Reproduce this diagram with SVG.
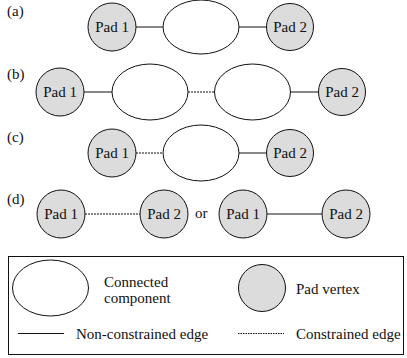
<svg xmlns="http://www.w3.org/2000/svg" width="407" height="358" viewBox="0 0 407 358">
<rect width="407" height="358" fill="#fff"/>
<g id="connectors" stroke="#111" stroke-width="1" fill="none">
<line x1="136" y1="27" x2="163" y2="27"/>
<line x1="239" y1="27" x2="267" y2="27"/>
<line x1="84" y1="92" x2="112" y2="92"/>
<line x1="188" y1="92" x2="215" y2="92" stroke-dasharray="2 1"/>
<line x1="290" y1="92" x2="318" y2="92"/>
<line x1="136" y1="153" x2="163" y2="153" stroke-dasharray="2 1"/>
<line x1="239" y1="153" x2="267" y2="153"/>
<line x1="85" y1="214" x2="140" y2="214" stroke-dasharray="2 1"/>
<line x1="267" y1="214" x2="323" y2="214"/>
</g>
<g id="labels" fill="#111">
<text x="7" y="16" font-family="Liberation Serif" font-size="15">(a)</text>
<text x="7" y="79" font-family="Liberation Serif" font-size="15">(b)</text>
<text x="7" y="142" font-family="Liberation Serif" font-size="15">(c)</text>
<text x="7" y="204" font-family="Liberation Serif" font-size="15">(d)</text>
<text x="195" y="218" font-family="Liberation Serif" font-size="15">or</text>
</g>
<g id="components" fill="#fff" stroke="#111" stroke-width="1">
<ellipse id="a-cc" cx="201" cy="27" rx="38" ry="27"/>
<ellipse id="b-cc1" cx="150" cy="92" rx="38" ry="28"/>
<ellipse id="b-cc2" cx="252.5" cy="92" rx="38" ry="28"/>
<ellipse id="c-cc" cx="201" cy="153" rx="38" ry="28"/>
</g>
<g id="pads" fill="#111">
<g id="a-pad1"><circle fill="#dcdcdc" stroke="#111" cx="112" cy="27" r="24"/><text x="112" y="32" text-anchor="middle" font-family="Liberation Serif" font-size="15">Pad 1</text></g>
<g id="a-pad2"><circle fill="#dcdcdc" stroke="#111" cx="290" cy="27" r="23.5"/><text x="290" y="32" text-anchor="middle" font-family="Liberation Serif" font-size="15">Pad 2</text></g>
<g id="b-pad1"><circle fill="#dcdcdc" stroke="#111" cx="60" cy="92" r="24"/><text x="60" y="97" text-anchor="middle" font-family="Liberation Serif" font-size="15">Pad 1</text></g>
<g id="b-pad2"><circle fill="#dcdcdc" stroke="#111" cx="342" cy="92" r="23.5"/><text x="342" y="97" text-anchor="middle" font-family="Liberation Serif" font-size="15">Pad 2</text></g>
<g id="c-pad1"><circle fill="#dcdcdc" stroke="#111" cx="112" cy="153" r="24"/><text x="112" y="158" text-anchor="middle" font-family="Liberation Serif" font-size="15">Pad 1</text></g>
<g id="c-pad2"><circle fill="#dcdcdc" stroke="#111" cx="290" cy="153" r="23.5"/><text x="290" y="158" text-anchor="middle" font-family="Liberation Serif" font-size="15">Pad 2</text></g>
<g id="d-pad1"><circle fill="#dcdcdc" stroke="#111" cx="61" cy="214" r="24"/><text x="61" y="219" text-anchor="middle" font-family="Liberation Serif" font-size="15">Pad 1</text></g>
<g id="d-pad2"><circle fill="#dcdcdc" stroke="#111" cx="164" cy="214" r="24"/><text x="164" y="219" text-anchor="middle" font-family="Liberation Serif" font-size="15">Pad 2</text></g>
<g id="d-pad3"><circle fill="#dcdcdc" stroke="#111" cx="243" cy="214" r="24"/><text x="243" y="219" text-anchor="middle" font-family="Liberation Serif" font-size="15">Pad 1</text></g>
<g id="d-pad4"><circle fill="#dcdcdc" stroke="#111" cx="346" cy="214" r="24"/><text x="346" y="219" text-anchor="middle" font-family="Liberation Serif" font-size="15">Pad 2</text></g>
</g>
<g id="legend" fill="#111">
<rect x="8.5" y="256.5" width="395" height="98" fill="none" stroke="#111"/>
<ellipse fill="#fff" stroke="#111" cx="50.5" cy="288" rx="38" ry="28"/>
<text x="104" y="287" font-family="Liberation Serif" font-size="15">Connected</text>
<text x="104" y="303" font-family="Liberation Serif" font-size="15">component</text>
<circle fill="#dcdcdc" stroke="#111" cx="262" cy="288" r="23.5"/>
<text x="296" y="294" font-family="Liberation Serif" font-size="15">Pad vertex</text>
<line stroke="#111" x1="18" y1="333.5" x2="64" y2="333.5"/>
<text x="76" y="339" font-family="Liberation Serif" font-size="15">Non-constrained edge</text>
<line stroke="#111" x1="238" y1="333.5" x2="284" y2="333.5" stroke-dasharray="1.5 1"/>
<text x="296" y="339" font-family="Liberation Serif" font-size="15">Constrained edge</text>
</g>
</svg>
